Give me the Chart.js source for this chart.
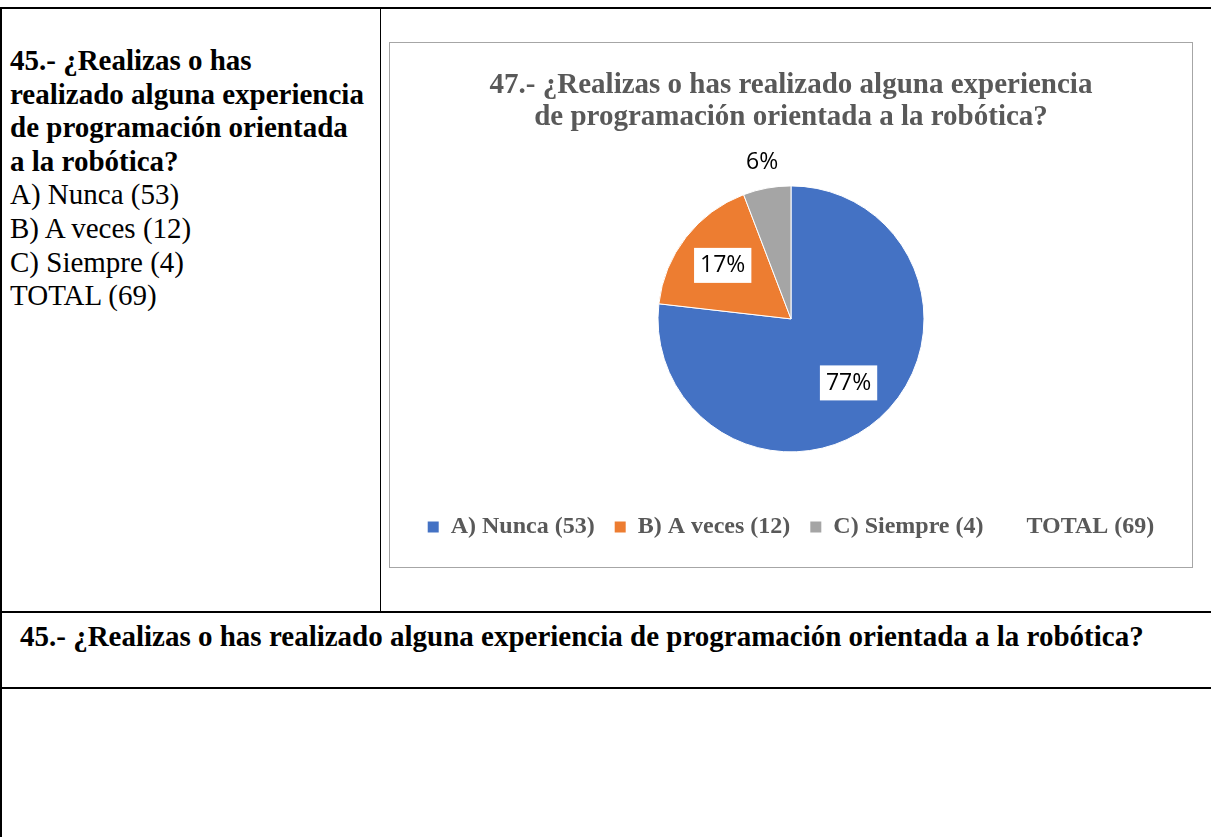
<!DOCTYPE html>
<html>
<head>
<meta charset="utf-8">
<script src="https://cdn.jsdelivr.net/npm/chart.js@4"></script>
<style>
  body { margin: 0; background: #fff; width: 1211px; height: 837px; overflow: hidden; position: relative; font-family: "Liberation Serif", serif; }
  .line { position: absolute; background: #000; }
  #leftText { position: absolute; left: 10px; top: 44px; font-size: 29px; line-height: 33.6px; color: #000; white-space: nowrap; }
  #leftText b { font-weight: bold; }
  #rowText { position: absolute; left: 20px; top: 620px; font-size: 29px; line-height: 33px; font-weight: bold; color: #000; white-space: nowrap; }
  #chartBox { position: absolute; left: 389px; top: 42px; width: 804px; height: 526px; border: 1px solid #a6a6a6; box-sizing: border-box; }
  #chartWrap { position: absolute; left: 0; top: 0; width: 802px; height: 524px; }
</style>
</head>
<body>
<div class="line" style="left:0;top:7px;width:1211px;height:2px"></div>
<div class="line" style="left:0;top:7px;width:2px;height:830px"></div>
<div class="line" style="left:380px;top:8px;width:1px;height:604px"></div>
<div class="line" style="left:0;top:611px;width:1211px;height:2px"></div>
<div class="line" style="left:0;top:687px;width:1211px;height:2px"></div>

<div id="leftText"><b>45.- ¿Realizas o has<br>realizado alguna experiencia<br>de programación orientada<br>a la robótica?</b><br>A) Nunca (53)<br>B) A veces (12)<br>C) Siempre (4)<br>TOTAL (69)</div>

<div id="rowText">45.- ¿Realizas o has realizado alguna experiencia de programación orientada a la robótica?</div>

<div id="chartBox"><div id="chartWrap"><canvas id="myChart"></canvas></div></div>

<script>
const categories = ['A) Nunca (53)', 'B) A veces (12)', 'C) Siempre (4)', 'TOTAL (69)'];
const values = [53, 12, 4];
const colors = ['#4472C4', '#ED7D31', '#A5A5A5'];
const titleLines = ['47.- ¿Realizas o has realizado alguna experiencia', 'de programación orientada a la robótica?'];

// percentage labels on the slices
const sliceLabels = {
  id: 'sliceLabels',
  afterDatasetsDraw(chart) {
    const ctx = chart.ctx;
    const meta = chart.getDatasetMeta(0);
    const total = values.reduce((acc, v) => acc + v, 0);
    ctx.save();
    ctx.font = '23px "Open Sans"';
    ctx.textAlign = 'center';
    ctx.textBaseline = 'middle';
    meta.data.forEach((arc, i) => {
      const share = values[i] / total;
      const text = Math.round(share * 100) + '%';
      const mid = (arc.startAngle + arc.endAngle) / 2;
      const small = share < 0.1;
      const r = small ? arc.outerRadius + 26 : arc.outerRadius * 0.65;
      const x = arc.x + Math.cos(mid) * r;
      const y = arc.y + Math.sin(mid) * r;
      const w = ctx.measureText(text).width;
      if (!small) {
        ctx.fillStyle = '#fff';
        ctx.fillRect(x - w / 2 - 6, y - 18, w + 12, 35);
      }
      ctx.fillStyle = '#000';
      ctx.fillText(text, x, y);
    });
    ctx.restore();
  }
};

let config = {
  type: 'pie',
  data: {
    labels: categories,
    datasets: [{
      data: values,
      backgroundColor: colors,
      borderColor: '#fff',
      borderWidth: 1,
      radius: 133
    }]
  },
  options: {
    responsive: true,
    maintainAspectRatio: false,
    animation: false,
    layout: { padding: { bottom: 18 } },
    plugins: {
      title: {
        display: true,
        text: titleLines,
        color: '#595959',
        font: { family: 'Liberation Serif', size: 29, weight: 'bold', lineHeight: 1.1 },
        padding: { top: 27, bottom: 9 }
      },
      legend: {
        position: 'bottom',
        labels: {
          boxWidth: 11,
          boxHeight: 11,
          padding: 20,
          color: '#595959',
          font: { family: 'Liberation Serif', size: 24, weight: 'bold' },
          generateLabels: () => categories.map((text, i) => ({
            text: text,
            fillStyle: colors[i] || 'rgba(0,0,0,0)',
            strokeStyle: 'rgba(0,0,0,0)',
            lineWidth: 0,
            fontColor: '#595959',
            hidden: false,
            index: i
          }))
        }
      },
      tooltip: { enabled: false }
    }
  },
  plugins: [sliceLabels]
};

let myChart = new Chart(document.getElementById('myChart'), config);
</script>
</body>
</html>
